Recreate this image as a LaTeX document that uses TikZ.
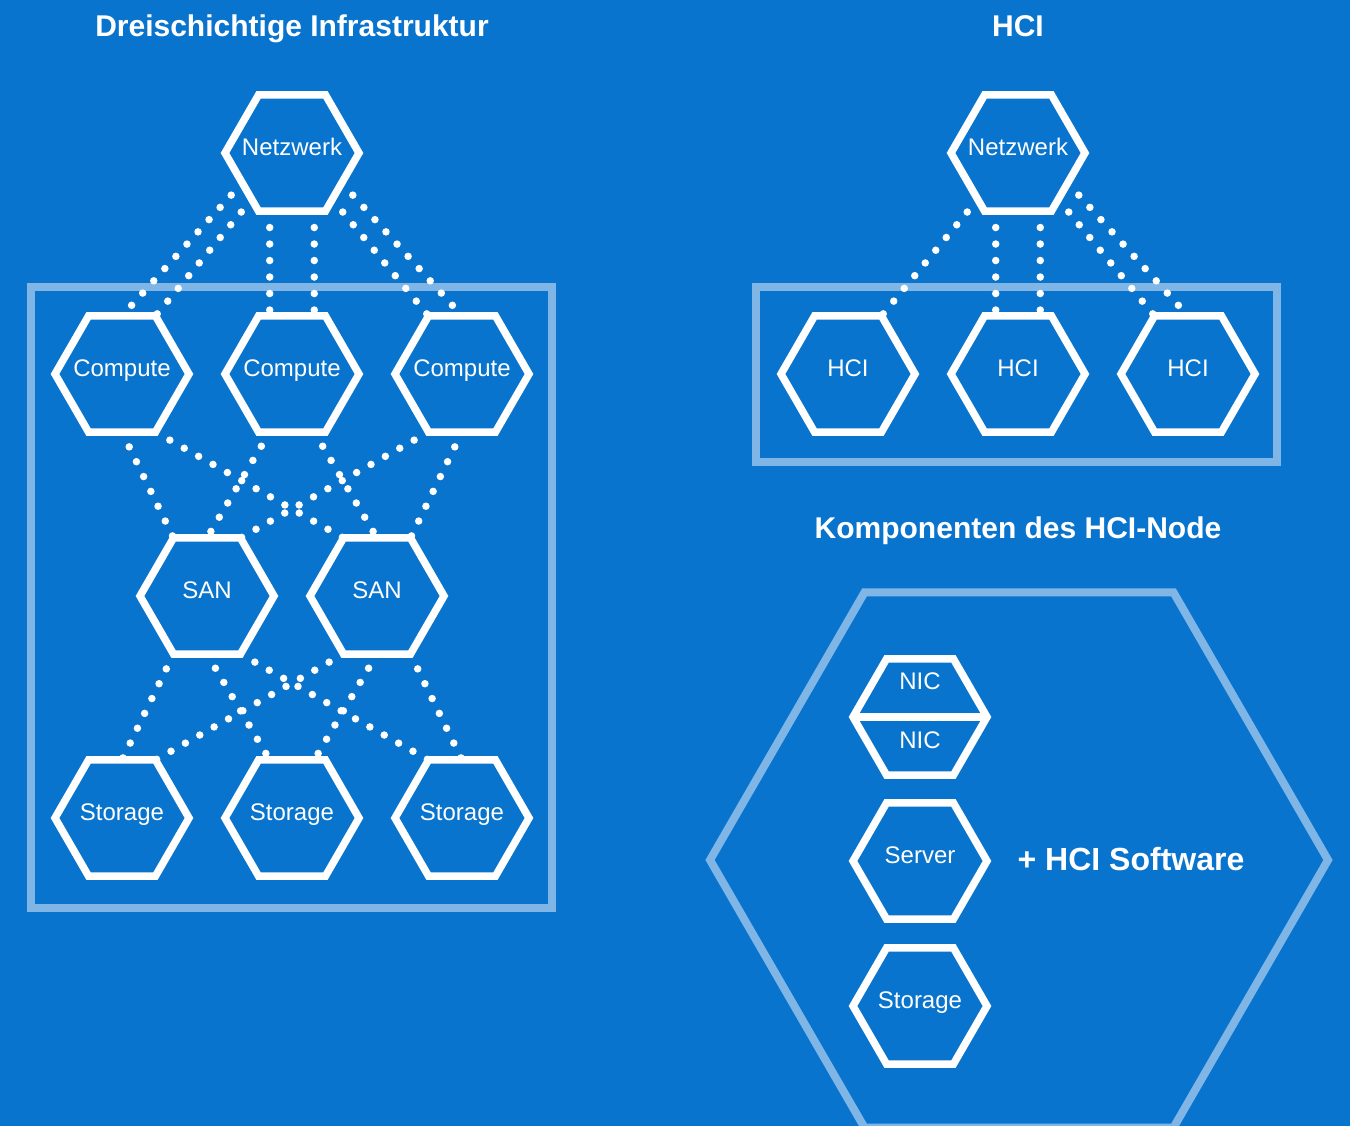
\documentclass[tikz,border=0pt]{standalone}
\usepackage{fontspec}
\setmainfont{Liberation Sans}
\usepackage{tikz}
\usetikzlibrary{shapes.geometric,
                backgrounds}
\definecolor{bgblue}{RGB}{9,116,205}
\definecolor{paleblue}{RGB}{128,182,230}
\tikzstyle{hexa} = [regular polygon, regular polygon sides=6, minimum size=134pt, inner sep=-12pt, outer sep=0pt, draw=white, line width=7.5pt, fill=bgblue, text=white, font=\fontsize{24}{24}\selectfont, text height=17pt, text depth=12pt]
\tikzstyle{link} = [white, line width=7.5pt, line cap=round, dash pattern=on 0pt off 16.5pt]
\tikzstyle{frame} = [draw=paleblue, line width=8pt]
\tikzstyle{headline} = [text=white, font=\fontsize{30}{30}\selectfont\bfseries, anchor=base]
\pgfdeclarelayer{links}
\pgfsetlayers{background,links,main}

\begin{document}
\begin{tikzpicture}[x=1pt, y=-1pt]
\useasboundingbox (0,0) rectangle (1350,1126);
\begin{pgfonlayer}{background}
\fill[bgblue] (0,0) rectangle (1350,1126);
\draw[frame] (31,287) rectangle (552,908);
\draw[frame] (756,287) rectangle (1277,462);
\end{pgfonlayer}

% headlines
\node[headline] (head1) at (292,37) {Dreischichtige Infrastruktur};
\node[headline] (head2) at (1018,37) {HCI};
\node[headline] (head3) at (1018,538) {Komponenten des HCI-Node};

% three tier
\node[hexa] (net1) at (292,153) {Netzwerk};
\node[hexa] (comp1) at (122,374) {Compute};
\node[hexa] (comp2) at (292,374) {Compute};
\node[hexa] (comp3) at (462,374) {Compute};
\node[hexa] (san1) at (207,596) {SAN};
\node[hexa] (san2) at (377,596) {SAN};
\node[hexa] (stor1) at (122,818) {Storage};
\node[hexa] (stor2) at (292,818) {Storage};
\node[hexa] (stor3) at (462,818) {Storage};

% hci
\node[hexa] (net2) at (1018,153) {Netzwerk};
\node[hexa] (hci1) at (848,374) {HCI};
\node[hexa] (hci2) at (1018,374) {HCI};
\node[hexa] (hci3) at (1188,374) {HCI};

% hci node
\node[regular polygon, regular polygon sides=6, minimum size=618pt, outer sep=0pt, draw=paleblue, line width=8pt] (hcinode) at (1019,860) {};
\node[hexa] (nic) at (920,717) {};
\draw[white, line width=7.5pt] (nic.west) -- (nic.east);
\node[text=white, font=\fontsize{24}{24}\selectfont, anchor=base] (nic1) at (920,689) {NIC};
\node[text=white, font=\fontsize{24}{24}\selectfont, anchor=base] (nic2) at (920,748) {NIC};
\node[hexa] (server) at (920,861) {Server};
\node[hexa] (stor4) at (920,1006) {Storage};
\node[text=white, font=\fontsize{32}{32}\selectfont\bfseries, anchor=base] (soft) at (1131,870) {+ HCI Software};

\begin{pgfonlayer}{links}
\draw[link] (net1.211) -- (comp1.90);
\draw[link] (net1.229) -- (comp1.60);
\draw[link] (net1.249) -- (comp2.111);
\draw[link] (net1.291) -- (comp2.69);
\draw[link] (net1.311) -- (comp3.120);
\draw[link] (net1.329) -- (comp3.90);
\draw[link] (comp1.270) -- (san1.120);
\draw[link] (comp1.300) -- (san2.120);
\draw[link] (comp2.249) -- (san1.90);
\draw[link] (comp2.291) -- (san2.90);
\draw[link] (comp3.240) -- (san1.60);
\draw[link] (comp3.270) -- (san2.60);
\draw[link] (san1.240) -- (stor1.90);
\draw[link] (san1.270) -- (stor2.111);
\draw[link] (san1.300) -- (stor3.120);
\draw[link] (san2.240) -- (stor1.60);
\draw[link] (san2.270) -- (stor2.69);
\draw[link] (san2.300) -- (stor3.90);
\draw[link] (net2.229) -- (hci1.60);
\draw[link] (net2.249) -- (hci2.111);
\draw[link] (net2.291) -- (hci2.69);
\draw[link] (net2.311) -- (hci3.120);
\draw[link] (net2.329) -- (hci3.90);
\end{pgfonlayer}
\end{tikzpicture}
\end{document}
